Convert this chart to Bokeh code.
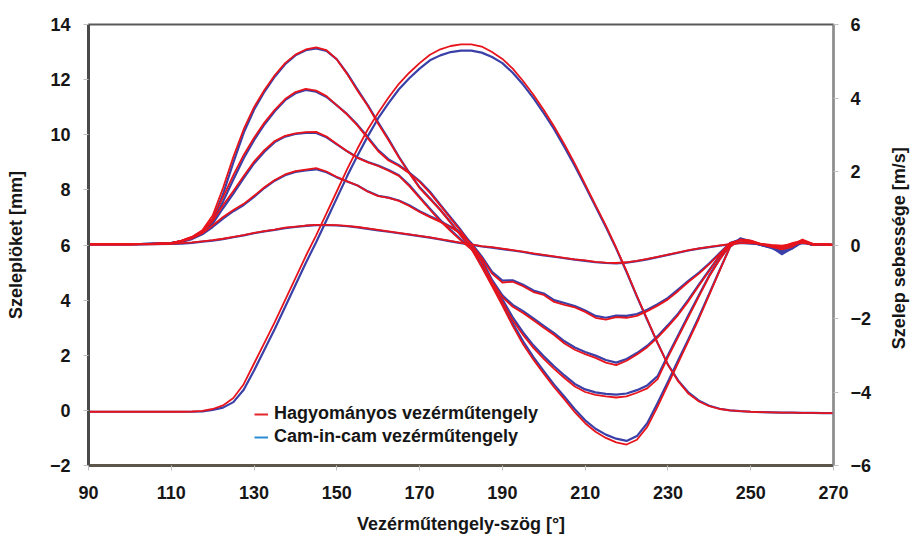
import math
from bokeh.plotting import figure
from bokeh.layouts import row
from bokeh.models import Range1d, LinearAxis, FixedTicker, Legend, LegendItem, Label
from bokeh.embed import file_html
from bokeh.resources import INLINE

# ---------------- data ----------------
angle = [90, 95, 100, 105, 110, 112.5, 115, 117.5, 120, 122.5,
         125, 127.5, 130, 132.5, 135, 137.5, 140, 142.5, 145, 147.5,
         150, 152.5, 155, 157.5, 160, 162.5, 165, 167.5, 170, 172.5,
         175, 177.5, 180, 182.5, 185, 187.5, 190, 192.5, 195, 197.5,
         200, 202.5, 205, 207.5, 210, 212.5, 215, 217.5, 220, 222.5,
         225, 227.5, 230, 232.5, 235, 237.5, 240, 242.5, 245, 247.5,
         250, 252.5, 255, 257.5, 260, 262.5, 265, 267.5, 270]

# valve lift [mm] (left axis)
lift_conv = [-0.05, -0.05, -0.05, -0.05, -0.05, -0.05, -0.04, -0.02, 0.05, 0.18,
             0.45, 0.95, 1.7, 2.45, 3.2, 4.0, 4.8, 5.6, 6.35, 7.15,
             7.95, 8.75, 9.5, 10.2, 10.8, 11.35, 11.85, 12.25, 12.6, 12.9,
             13.1, 13.22, 13.28, 13.28, 13.2, 13.0, 12.75, 12.4, 11.95, 11.45,
             10.9, 10.3, 9.65, 8.95, 8.2, 7.45, 6.7, 5.9, 5.05, 4.15,
             3.3, 2.45, 1.65, 1.05, 0.6, 0.32, 0.15, 0.05, 0.0, -0.03,
             -0.05, -0.06, -0.07, -0.08, -0.08, -0.09, -0.09, -0.1, -0.1]
lift_cic = [-0.05, -0.05, -0.05, -0.05, -0.05, -0.05, -0.05, -0.04, 0.02, 0.1,
            0.3, 0.75, 1.45, 2.2, 2.95, 3.75, 4.55, 5.35, 6.1, 6.9,
            7.7, 8.5, 9.25, 9.95, 10.6, 11.15, 11.65, 12.05, 12.4, 12.7,
            12.88, 13.0, 13.05, 13.05, 12.98, 12.82, 12.6, 12.25, 11.82, 11.33,
            10.78, 10.2, 9.55, 8.87, 8.14, 7.4, 6.65, 5.87, 5.02, 4.13,
            3.28, 2.44, 1.66, 1.08, 0.64, 0.35, 0.17, 0.06, 0.0, -0.03,
            -0.05, -0.06, -0.07, -0.08, -0.08, -0.09, -0.09, -0.1, -0.1]

# valve velocity [m/s] (right axis), five operating points
vel1_conv = [0.02, 0.02, 0.02, 0.03, 0.05, 0.12, 0.22, 0.4, 0.8, 1.55,
             2.4, 3.15, 3.75, 4.22, 4.62, 4.95, 5.18, 5.32, 5.38, 5.3,
             5.05, 4.65, 4.2, 3.78, 3.3, 2.85, 2.38, 1.95, 1.55, 1.25,
             0.95, 0.6, 0.25, -0.1, -0.6, -1.12, -1.65, -2.2, -2.7, -3.12,
             -3.5, -3.87, -4.2, -4.55, -4.85, -5.08, -5.25, -5.37, -5.43, -5.3,
             -4.95, -4.4, -3.8, -3.2, -2.6, -2.0, -1.35, -0.7, -0.05, 0.15,
             0.12, 0.02, -0.05, -0.12, -0.05, 0.12, 0.02, 0.03, 0.0]
vel1_cic = [0.02, 0.02, 0.02, 0.03, 0.05, 0.1, 0.18, 0.34, 0.68, 1.38,
            2.25, 3.05, 3.68, 4.17, 4.58, 4.92, 5.16, 5.3, 5.35, 5.28,
            5.05, 4.67, 4.23, 3.8, 3.33, 2.88, 2.4, 1.97, 1.57, 1.27,
            0.96, 0.62, 0.27, -0.08, -0.55, -1.07, -1.6, -2.13, -2.62, -3.05,
            -3.43, -3.8, -4.13, -4.47, -4.77, -5.0, -5.16, -5.27, -5.33, -5.2,
            -4.85, -4.3, -3.72, -3.13, -2.55, -1.95, -1.32, -0.68, -0.05, 0.18,
            0.1, 0.0, -0.08, -0.2, -0.1, 0.08, 0.0, 0.02, 0.0]

vel2_conv = [0.02, 0.02, 0.02, 0.03, 0.05, 0.12, 0.22, 0.38, 0.72, 1.3,
             1.9, 2.45, 2.92, 3.33, 3.68, 3.97, 4.16, 4.25, 4.2, 4.05,
             3.8, 3.55, 3.25, 2.9, 2.55, 2.3, 2.15, 1.95, 1.72, 1.42,
             1.07, 0.72, 0.37, 0.0, -0.45, -1.05, -1.55, -2.05, -2.45, -2.8,
             -3.1, -3.37, -3.62, -3.85, -4.0, -4.08, -4.12, -4.15, -4.12, -4.02,
             -3.9, -3.65, -3.05, -2.5, -1.95, -1.4, -0.85, -0.4, 0.0, 0.14,
             0.12, 0.03, -0.03, -0.08, 0.0, 0.15, 0.03, 0.02, 0.0]
vel2_cic = [0.02, 0.02, 0.02, 0.03, 0.05, 0.11, 0.2, 0.34, 0.62, 1.18,
            1.78, 2.36, 2.85, 3.28, 3.64, 3.94, 4.13, 4.22, 4.17, 4.03,
            3.8, 3.56, 3.27, 2.93, 2.58, 2.33, 2.17, 1.97, 1.74, 1.45,
            1.1, 0.75, 0.4, 0.03, -0.4, -0.98, -1.48, -1.97, -2.38, -2.73,
            -3.03, -3.3, -3.55, -3.78, -3.93, -4.01, -4.05, -4.07, -4.04, -3.95,
            -3.82, -3.57, -3.0, -2.45, -1.9, -1.36, -0.82, -0.38, 0.0, 0.16,
            0.1, 0.0, -0.06, -0.15, -0.05, 0.1, 0.0, 0.02, 0.0]

vel3_conv = [0.02, 0.02, 0.02, 0.03, 0.05, 0.11, 0.2, 0.36, 0.65, 1.08,
             1.47, 1.88, 2.27, 2.58, 2.83, 2.97, 3.04, 3.07, 3.08, 2.95,
             2.75, 2.55, 2.37, 2.25, 2.15, 2.02, 1.88, 1.6, 1.28, 0.96,
             0.65, 0.38, 0.12, -0.12, -0.45, -1.0, -1.42, -1.68, -1.85, -2.05,
             -2.25, -2.45, -2.68, -2.85, -2.97, -3.07, -3.2, -3.27, -3.15, -2.98,
             -2.78, -2.52, -2.22, -1.9, -1.52, -1.1, -0.7, -0.3, 0.05, 0.13,
             0.1, 0.02, -0.04, -0.06, 0.02, 0.1, 0.0, 0.02, 0.0]
vel3_cic = [0.02, 0.02, 0.02, 0.03, 0.05, 0.1, 0.18, 0.32, 0.58, 1.0,
            1.4, 1.82, 2.22, 2.54, 2.8, 2.95, 3.02, 3.05, 3.05, 2.93,
            2.74, 2.55, 2.38, 2.26, 2.16, 2.04, 1.9, 1.63, 1.31, 0.99,
            0.68, 0.41, 0.15, -0.09, -0.41, -0.95, -1.37, -1.63, -1.8, -2.0,
            -2.2, -2.4, -2.62, -2.79, -2.91, -3.01, -3.13, -3.2, -3.1, -2.94,
            -2.74, -2.48, -2.18, -1.86, -1.48, -1.07, -0.68, -0.29, 0.05, 0.15,
            0.08, 0.0, -0.07, -0.12, -0.03, 0.08, 0.0, 0.02, 0.0]

vel4_conv = [0.02, 0.02, 0.02, 0.03, 0.05, 0.1, 0.18, 0.32, 0.53, 0.76,
             0.95, 1.12, 1.34, 1.57, 1.77, 1.92, 2.01, 2.05, 2.09, 2.0,
             1.85, 1.73, 1.62, 1.45, 1.33, 1.28, 1.2, 1.06, 0.9, 0.76,
             0.63, 0.48, 0.3, 0.02, -0.35, -0.78, -1.02, -1.0, -1.12, -1.28,
             -1.36, -1.55, -1.63, -1.7, -1.82, -1.98, -2.03, -1.96, -1.98, -1.93,
             -1.8, -1.65, -1.48, -1.25, -1.0, -0.78, -0.52, -0.24, 0.05, 0.12,
             0.08, 0.02, -0.02, -0.05, 0.05, 0.12, 0.03, 0.02, 0.0]
vel4_cic = [0.02, 0.02, 0.02, 0.03, 0.05, 0.09, 0.16, 0.29, 0.49, 0.72,
            0.92, 1.09, 1.31, 1.55, 1.75, 1.9, 1.99, 2.03, 2.06, 1.98,
            1.84, 1.73, 1.62, 1.46, 1.34, 1.29, 1.21, 1.08, 0.92, 0.78,
            0.65, 0.5, 0.32, 0.05, -0.31, -0.73, -0.97, -0.96, -1.08, -1.24,
            -1.32, -1.5, -1.58, -1.66, -1.78, -1.93, -1.98, -1.92, -1.93, -1.88,
            -1.76, -1.61, -1.44, -1.21, -0.97, -0.75, -0.5, -0.22, 0.05, 0.14,
            0.06, 0.0, -0.06, -0.25, -0.08, 0.1, 0.0, 0.02, 0.0]

vel5_conv = [0.02, 0.02, 0.02, 0.02, 0.03, 0.05, 0.07, 0.1, 0.13, 0.17,
             0.22, 0.27, 0.33, 0.38, 0.42, 0.47, 0.5, 0.53, 0.55, 0.55,
             0.54, 0.52, 0.49, 0.45, 0.41, 0.37, 0.33, 0.29, 0.25, 0.21,
             0.16, 0.11, 0.06, 0.02, -0.03, -0.06, -0.1, -0.14, -0.18, -0.23,
             -0.27, -0.31, -0.35, -0.39, -0.42, -0.46, -0.48, -0.49, -0.47, -0.43,
             -0.38, -0.32, -0.26, -0.2, -0.14, -0.09, -0.05, -0.01, 0.02, 0.05,
             0.05, 0.03, 0.0, -0.02, 0.02, 0.06, 0.02, 0.01, 0.0]
vel5_cic = [0.02, 0.02, 0.02, 0.02, 0.03, 0.04, 0.06, 0.09, 0.12, 0.16,
            0.21, 0.26, 0.32, 0.37, 0.41, 0.46, 0.49, 0.52, 0.54, 0.54,
            0.53, 0.51, 0.48, 0.44, 0.4, 0.36, 0.32, 0.28, 0.24, 0.2,
            0.15, 0.1, 0.05, 0.01, -0.04, -0.07, -0.11, -0.15, -0.19, -0.24,
            -0.28, -0.32, -0.36, -0.4, -0.43, -0.47, -0.49, -0.5, -0.48, -0.44,
            -0.39, -0.33, -0.27, -0.21, -0.15, -0.1, -0.06, -0.02, 0.02, 0.06,
            0.04, 0.02, -0.02, -0.05, 0.0, 0.05, 0.02, 0.01, 0.0]

x_ticks = [90, 110, 130, 150, 170, 190, 210, 230, 250, 270]
lift_ticks = [-2, 0, 2, 4, 6, 8, 10, 12, 14]
vel_ticks = [-6, -4, -2, 0, 2, 4, 6]

series_conv = [vel1_conv, vel2_conv, vel3_conv, vel4_conv, vel5_conv]
series_cic = [vel1_cic, vel2_cic, vel3_cic, vel4_cic, vel5_cic]
for s in series_conv + series_cic + [lift_conv, lift_cic]:
    assert len(s) == len(angle), len(s)

# ---------------- styling ----------------
FONT = "Liberation Sans"
TXT = "#161616"
RED = "#e8141c"
BLUE = "#3a40a8"
FS = "18px"

p = figure(frame_width=745, frame_height=441,
           x_range=Range1d(90, 270), y_range=Range1d(-2, 14),
           output_backend="svg", toolbar_location=None,
           min_border_left=88, min_border_right=42,
           min_border_top=24, min_border_bottom=75,
           background_fill_color="white", border_fill_color="white")
p.extra_y_ranges = {"vel": Range1d(-6, 6)}
p.grid.visible = False
p.outline_line_color = "#5a5a5a"
p.outline_line_width = 2

def style_axis(ax, label_standoff, tick_standoff):
    ax.axis_label_text_font = FONT
    ax.axis_label_text_font_style = "bold"
    ax.axis_label_text_font_size = FS
    ax.axis_label_text_color = TXT
    ax.axis_label_standoff = label_standoff
    ax.major_label_text_font = FONT
    ax.major_label_text_font_style = "bold"
    ax.major_label_text_font_size = FS
    ax.major_label_text_color = TXT
    ax.major_label_standoff = tick_standoff
    ax.major_tick_out = 5
    ax.major_tick_in = 0
    ax.major_tick_line_color = "#c0c0c0"
    ax.minor_tick_line_color = None

xa = p.xaxis[0]
xa.ticker = FixedTicker(ticks=x_ticks)
xa.axis_label = "Vezérműtengely-szög [°]"
style_axis(xa, 12, 15)
xa.axis_line_color = "#5b554a"
xa.axis_line_width = 3

ya = p.yaxis[0]
ya.ticker = FixedTicker(ticks=lift_ticks)
ya.axis_label = "Szeleplöket [mm]"
style_axis(ya, 21, 13)
ya.axis_line_color = "#4a4a4a"
ya.axis_line_width = 3

ra = LinearAxis(y_range_name="vel", ticker=FixedTicker(ticks=vel_ticks))
style_axis(ra, 15, 12)
ra.axis_line_color = "#8c8c8c"
ra.axis_line_width = 2
p.add_layout(ra, "right")

# ---------------- curves ----------------
p.line(angle, lift_cic, line_color=BLUE, line_width=2.2, line_join="round")
for s in series_cic:
    p.line(angle, s, line_color=BLUE, line_width=2.2, line_join="round", y_range_name="vel")
p.line(angle, lift_conv, line_color=RED, line_width=1.8, line_join="round")
for s in series_conv:
    p.line(angle, s, line_color=RED, line_width=1.8, line_join="round", y_range_name="vel")

# legend swatches in the legend colours of the original
nan = float("nan")
leg_red = p.line([nan], [nan], line_color="#e3262b", line_width=2)
leg_blue = p.line([nan], [nan], line_color="#2b8cd3", line_width=2)
legend = Legend(items=[LegendItem(label="Hagyományos vezérműtengely", renderers=[leg_red]),
                       LegendItem(label="Cam-in-cam vezérműtengely", renderers=[leg_blue])],
                location=(166, 18), orientation="vertical",
                label_text_font=FONT, label_text_font_style="bold",
                label_text_font_size=FS, label_text_color=TXT,
                glyph_width=14, glyph_height=14, label_standoff=6, spacing=2,
                padding=0, margin=0, background_fill_alpha=0, border_line_alpha=0)
p.add_layout(legend, "center")

# narrow strip holding the right-axis title, reading bottom-to-top as in the original
side = figure(width=35, height=540, x_range=Range1d(0, 35), y_range=Range1d(0, 540),
              x_axis_type=None, y_axis_type=None, output_backend="svg",
              toolbar_location=None, min_border=0,
              background_fill_color="white", border_fill_color="white")
side.outline_line_color = None
side.grid.visible = False
side.add_layout(Label(x=23, y=266, text="Szelep sebessége [m/s]", angle=math.pi / 2,
                      text_align="center", text_baseline="middle",
                      text_font=FONT, text_font_style="bold",
                      text_font_size=FS, text_color=TXT))

layout = row(p, side, spacing=0)
open("out.html", "w").write(file_html(layout, INLINE))
